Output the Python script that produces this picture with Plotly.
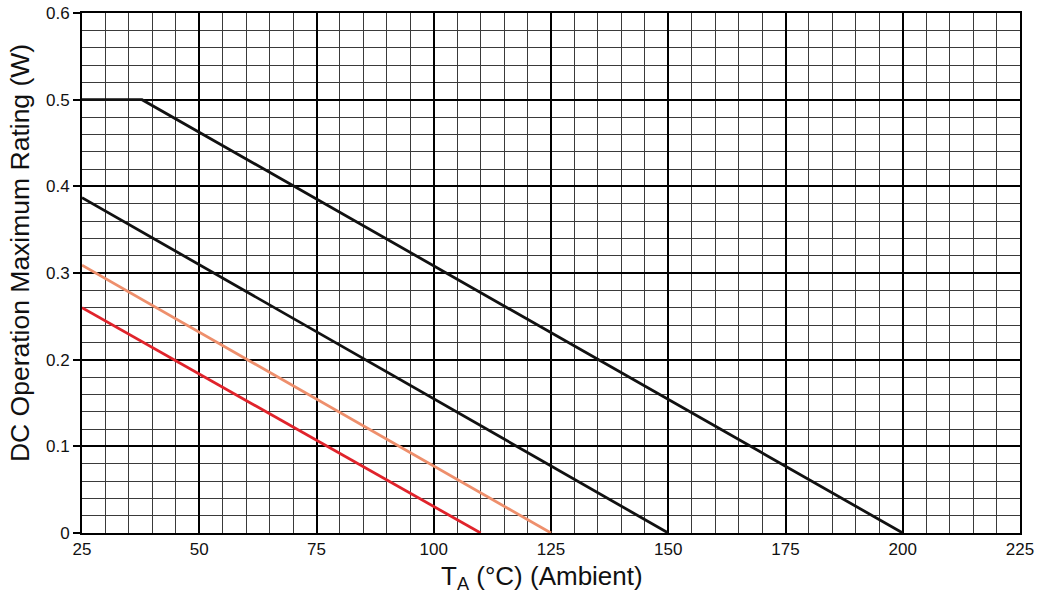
import plotly.graph_objects as go

# Data
line1_x = [25, 37.8, 200]
line1_y = [0.5, 0.5, 0.0]
line2_x = [25, 150]
line2_y = [0.387, 0.0]
line3_x = [25, 125]
line3_y = [0.309, 0.0]
line4_x = [25, 110]
line4_y = [0.26, 0.0]

x_ticks = [25, 50, 75, 100, 125, 150, 175, 200, 225]
y_ticks = [0, 0.1, 0.2, 0.3, 0.4, 0.5, 0.6]
y_labels = ["0", "0.1", "0.2", "0.3", "0.4", "0.5", "0.6"]
x_title = "T<sub>A</sub> (°C) (Ambient)"
y_title = "DC Operation Maximum Rating (W)"

fig = go.Figure()
fig.add_trace(go.Scatter(x=line1_x, y=line1_y, mode="lines",
                         line=dict(color="#111111", width=2.8), showlegend=False))
fig.add_trace(go.Scatter(x=line2_x, y=line2_y, mode="lines",
                         line=dict(color="#111111", width=2.8), showlegend=False))
fig.add_trace(go.Scatter(x=line3_x, y=line3_y, mode="lines",
                         line=dict(color="#EE8F6C", width=2.8), showlegend=False))
fig.add_trace(go.Scatter(x=line4_x, y=line4_y, mode="lines",
                         line=dict(color="#E0232B", width=2.8), showlegend=False))

font = "Liberation Sans, Arial, sans-serif"

fig.update_layout(
    margin=dict(l=82, r=19, t=13, b=70, autoexpand=False),
    paper_bgcolor="white", plot_bgcolor="white",
    font=dict(family=font, color="black", size=17),
    xaxis=dict(
        range=[25, 225], tickvals=x_ticks, ticktext=[str(v) for v in x_ticks],
        showgrid=True, gridcolor="#000000", gridwidth=1.6,
        minor=dict(dtick=5, tick0=25, showgrid=True, gridcolor="#3a3a3a", gridwidth=1, ticks=""),
        showline=True, mirror=True, linecolor="black", linewidth=2,
        ticks="", zeroline=False, automargin=False,
        tickfont=dict(size=17, family=font, color="#111111"),
    ),
    yaxis=dict(
        range=[0, 0.6], tickvals=y_ticks, ticktext=y_labels,
        showgrid=True, gridcolor="#000000", gridwidth=1.6,
        minor=dict(dtick=0.02, tick0=0, showgrid=True, gridcolor="#3a3a3a", gridwidth=1, ticks=""),
        showline=True, mirror=True, linecolor="black", linewidth=2,
        ticks="outside", ticklen=7, tickwidth=1.5, tickcolor="black", zeroline=False, automargin=False,
        tickfont=dict(size=17, family=font, color="#111111"),
    ),
    annotations=[
        dict(text=x_title, xref="paper", yref="paper", x=0.490, y=-0.0865,
             xanchor="center", yanchor="middle", showarrow=False,
             font=dict(size=26, family=font, color="#111111")),
        dict(text=y_title, xref="paper", yref="paper", x=-0.066, y=0.5385,
             xanchor="center", yanchor="middle", showarrow=False, textangle=-90,
             font=dict(size=26.5, family=font, color="#111111")),
    ],
)

fig.write_html("out.html")
